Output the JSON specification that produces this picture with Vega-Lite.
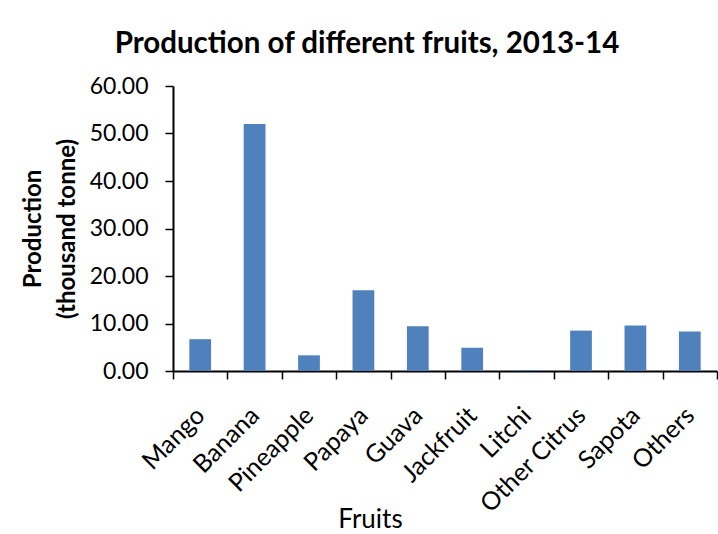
{
  "$schema": "https://vega.github.io/schema/vega-lite/v6.json",
  "width": 544,
  "height": 285,
  "autosize": "none",
  "padding": {"left": 173, "top": 86, "right": 1, "bottom": 163},
  "background": "white",
  "config": {
    "view": {"stroke": null},
    "font": "Lato, sans-serif",
    "axis": {
      "domainColor": "#000000",
      "tickColor": "#000000",
      "labelColor": "#000000",
      "titleColor": "#000000",
      "grid": false
    }
  },
  "title": {
    "text": "Production of different fruits, 2013-14",
    "fontSize": 29.5,
    "fontWeight": "bold",
    "color": "#000000",
    "anchor": "middle",
    "dx": -78,
    "baseline": "alphabetic",
    "offset": -7
  },
  "data": {
    "values": [
      {"fruit": "Mango", "production": 6.7},
      {"fruit": "Banana", "production": 52.0},
      {"fruit": "Pineapple", "production": 3.3},
      {"fruit": "Papaya", "production": 17.0},
      {"fruit": "Guava", "production": 9.4},
      {"fruit": "Jackfruit", "production": 4.9},
      {"fruit": "Litchi", "production": 0.15},
      {"fruit": "Other Citrus", "production": 8.5},
      {"fruit": "Sapota", "production": 9.6},
      {"fruit": "Others", "production": 8.3}
    ]
  },
  "mark": {"type": "bar", "color": "#4F81BD", "width": {"band": 0.4}},
  "encoding": {
    "x": {
      "field": "fruit",
      "type": "nominal",
      "sort": null,
      "scale": {"paddingInner": 0, "paddingOuter": 0},
      "axis": {
        "title": "Fruits",
        "titleFontSize": 26,
        "titleFontWeight": "normal",
        "titleX": 197,
        "titleY": 156,
        "titleBaseline": "alphabetic",
        "labelAngle": -45,
        "labelAlign": "right",
        "labelBaseline": "middle",
        "labelFontSize": 25,
        "labelPadding": 32,
        "tickBand": "extent",
        "tickSize": 8,
        "tickWidth": 1.5,
        "domainWidth": 2
      }
    },
    "y": {
      "field": "production",
      "type": "quantitative",
      "scale": {"domain": [0, 60], "nice": false},
      "axis": {
        "title": ["Production", "(thousand tonne)"],
        "titleFontSize": 24,
        "titleFontWeight": "bold",
        "titleLineHeight": 34,
        "titlePadding": 10,
        "values": [0, 10, 20, 30, 40, 50, 60],
        "format": ".2f",
        "labelFontSize": 23,
        "labelPadding": 17,
        "tickSize": 8,
        "tickWidth": 1.5,
        "domainWidth": 2
      }
    }
  }
}
